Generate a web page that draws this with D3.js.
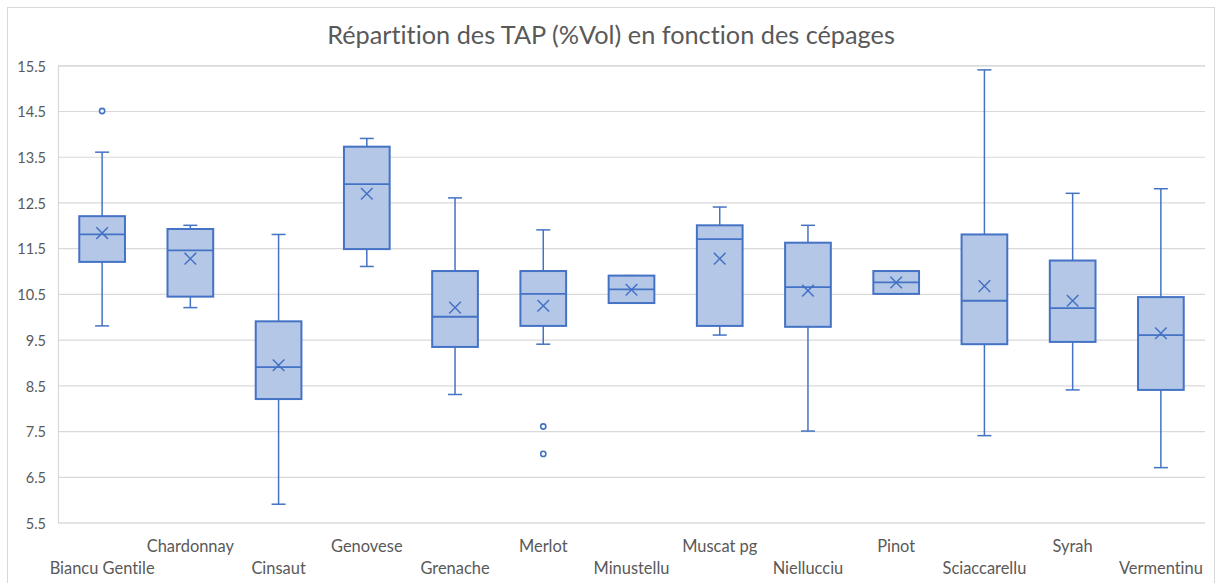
<!DOCTYPE html>
<html>
<head>
<meta charset="utf-8">
<script src="https://cdn.jsdelivr.net/npm/d3@7"></script>
<style>
  html, body { margin: 0; padding: 0; background: #fff; }
  svg { display: block; }
  text { font-family: Lato, "Open Sans", sans-serif; fill: #595959; font-variant-ligatures: none; }
</style>
</head>
<body>
<svg id="chart" width="1216" height="583"></svg>
<script>
// ---- data ----
const title = "Répartition des TAP (%Vol) en fonction des cépages";
const categories = ["Biancu Gentile", "Chardonnay", "Cinsaut", "Genovese", "Grenache", "Merlot",
  "Minustellu", "Muscat pg", "Niellucciu", "Pinot", "Sciaccarellu", "Syrah", "Vermentinu"];
const whiskerLow  = [9.8, 10.2, 5.9, 11.1, 8.3, 9.4, 10.3, 9.6, 7.5, 10.5, 7.4, 8.4, 6.7];
const q1Values    = [11.2, 10.44, 8.2, 11.48, 9.34, 9.8, 10.3, 9.8, 9.78, 10.5, 9.4, 9.45, 8.4];
const medians     = [11.8, 11.45, 8.9, 12.9, 10.0, 10.5, 10.6, 11.7, 10.65, 10.75, 10.35, 10.19, 9.6];
const q3Values    = [12.2, 11.92, 9.9, 13.72, 11.0, 11.0, 10.9, 12.0, 11.62, 11.0, 11.8, 11.23, 10.43];
const whiskerHigh = [13.6, 12.0, 11.8, 13.9, 12.6, 11.9, 10.9, 12.4, 12.0, 11.0, 15.4, 12.7, 12.8];
const means       = [11.83, 11.27, 8.94, 12.69, 10.2, 10.24, 10.59, 11.27, 10.57, 10.75, 10.67, 10.35, 9.64];
const outliers    = [[14.5], [], [], [], [], [7.6, 7.0], [], [], [], [], [], [], []];
const yTicks = [5.5, 6.5, 7.5, 8.5, 9.5, 10.5, 11.5, 12.5, 13.5, 14.5, 15.5];

// ---- layout ----
const svg = d3.select("#chart");
const plot = { left: 58, right: 1205, top: 65.3, bottom: 522.5 };
const stroke = "#4472C4", fill = "#B4C7E7", grid = "#D9D9D9";

function fit(sel, target) {
  const len = sel.node().getComputedTextLength();
  const s = parseFloat(sel.attr("font-size"));
  const ns = s * target / len;
  sel.attr("font-size", ns);
  return ns;
}

// frame
svg.append("rect").attr("x", 7.5).attr("y", 7.5).attr("width", 1207).attr("height", 600)
  .attr("fill", "#fff").attr("stroke", grid).attr("stroke-width", 1);

const x = d3.scaleBand().domain(categories).range([plot.left, plot.right]).paddingInner(0).paddingOuter(0);
const y = d3.scaleLinear().domain([5.5, 15.5]).range([plot.bottom, plot.top]);

// gridlines + y labels
const yAxis = d3.axisLeft(y).tickValues(yTicks).tickSize(-(plot.right - plot.left)).tickFormat(d3.format(".1f"));
const gy = svg.append("g").attr("transform", `translate(${plot.left},0)`).call(yAxis);
gy.select(".domain").attr("stroke", grid).attr("stroke-width", 1.2);
gy.selectAll(".tick line").attr("stroke", grid).attr("stroke-width", 1.2);
gy.selectAll(".tick text").attr("x", -12).attr("dy", "0.4em").attr("font-size", 16)
  .attr("fill", "#595959").style("font-family", "Lato, 'Open Sans', sans-serif");
{
  const t = gy.selectAll(".tick text").filter(d => d === 15.5);
  const ns = fit(t, 28.7);
  gy.selectAll(".tick text").attr("font-size", ns);
}

// x labels (staggered)
const xl = svg.append("g");
const labels = xl.selectAll("text").data(categories).join("text")
  .attr("x", d => x(d) + x.bandwidth() / 2)
  .attr("y", (d, i) => i % 2 === 0 ? 574 : 552)
  .attr("text-anchor", "middle")
  .attr("font-size", 17)
  .text(d => d);
{
  const t = labels.filter(d => d === "Vermentinu");
  const ns = fit(t, 84);
  labels.attr("font-size", ns);
}

// title
const tt = svg.append("text").attr("x", 611).attr("y", 44).attr("text-anchor", "middle")
  .attr("font-size", 26).text(title);
fit(tt, 568);

// boxes
const bw = x.bandwidth() * 0.518;
const capW = 14;
const data = categories.map((c, i) => ({
  c, lo: whiskerLow[i], q1: q1Values[i], med: medians[i], q3: q3Values[i],
  hi: whiskerHigh[i], mean: means[i], out: outliers[i]
}));
const g = svg.append("g").selectAll("g").data(data).join("g")
  .attr("transform", d => `translate(${x(d.c) + x.bandwidth() / 2},0)`);

// whiskers
g.append("line").attr("x1", 0).attr("x2", 0).attr("y1", d => y(d.q3)).attr("y2", d => y(d.hi))
  .attr("stroke", stroke).attr("stroke-width", 1.5);
g.append("line").attr("x1", 0).attr("x2", 0).attr("y1", d => y(d.q1)).attr("y2", d => y(d.lo))
  .attr("stroke", stroke).attr("stroke-width", 1.5);
g.append("line").attr("x1", -capW / 2).attr("x2", capW / 2).attr("y1", d => y(d.hi)).attr("y2", d => y(d.hi))
  .attr("stroke", stroke).attr("stroke-width", 1.5);
g.append("line").attr("x1", -capW / 2).attr("x2", capW / 2).attr("y1", d => y(d.lo)).attr("y2", d => y(d.lo))
  .attr("stroke", stroke).attr("stroke-width", 1.5);

// box
g.append("rect").attr("x", -bw / 2).attr("width", bw)
  .attr("y", d => y(d.q3)).attr("height", d => y(d.q1) - y(d.q3))
  .attr("fill", fill).attr("stroke", stroke).attr("stroke-width", 2);
// median
g.append("line").attr("x1", -bw / 2).attr("x2", bw / 2).attr("y1", d => y(d.med)).attr("y2", d => y(d.med))
  .attr("stroke", stroke).attr("stroke-width", 1.8);
// mean X
const m = 5.8;
g.append("path").attr("d", d => {
  const yy = y(d.mean);
  return `M${-m},${yy - m}L${m},${yy + m}M${-m},${yy + m}L${m},${yy - m}`;
}).attr("stroke", stroke).attr("stroke-width", 1.5).attr("fill", "none");
// outliers
g.selectAll("circle").data(d => d.out).join("circle")
  .attr("cx", 0).attr("cy", v => y(v)).attr("r", 2.6)
  .attr("fill", "#fff").attr("stroke", stroke).attr("stroke-width", 1.6);
</script>
</body>
</html>
